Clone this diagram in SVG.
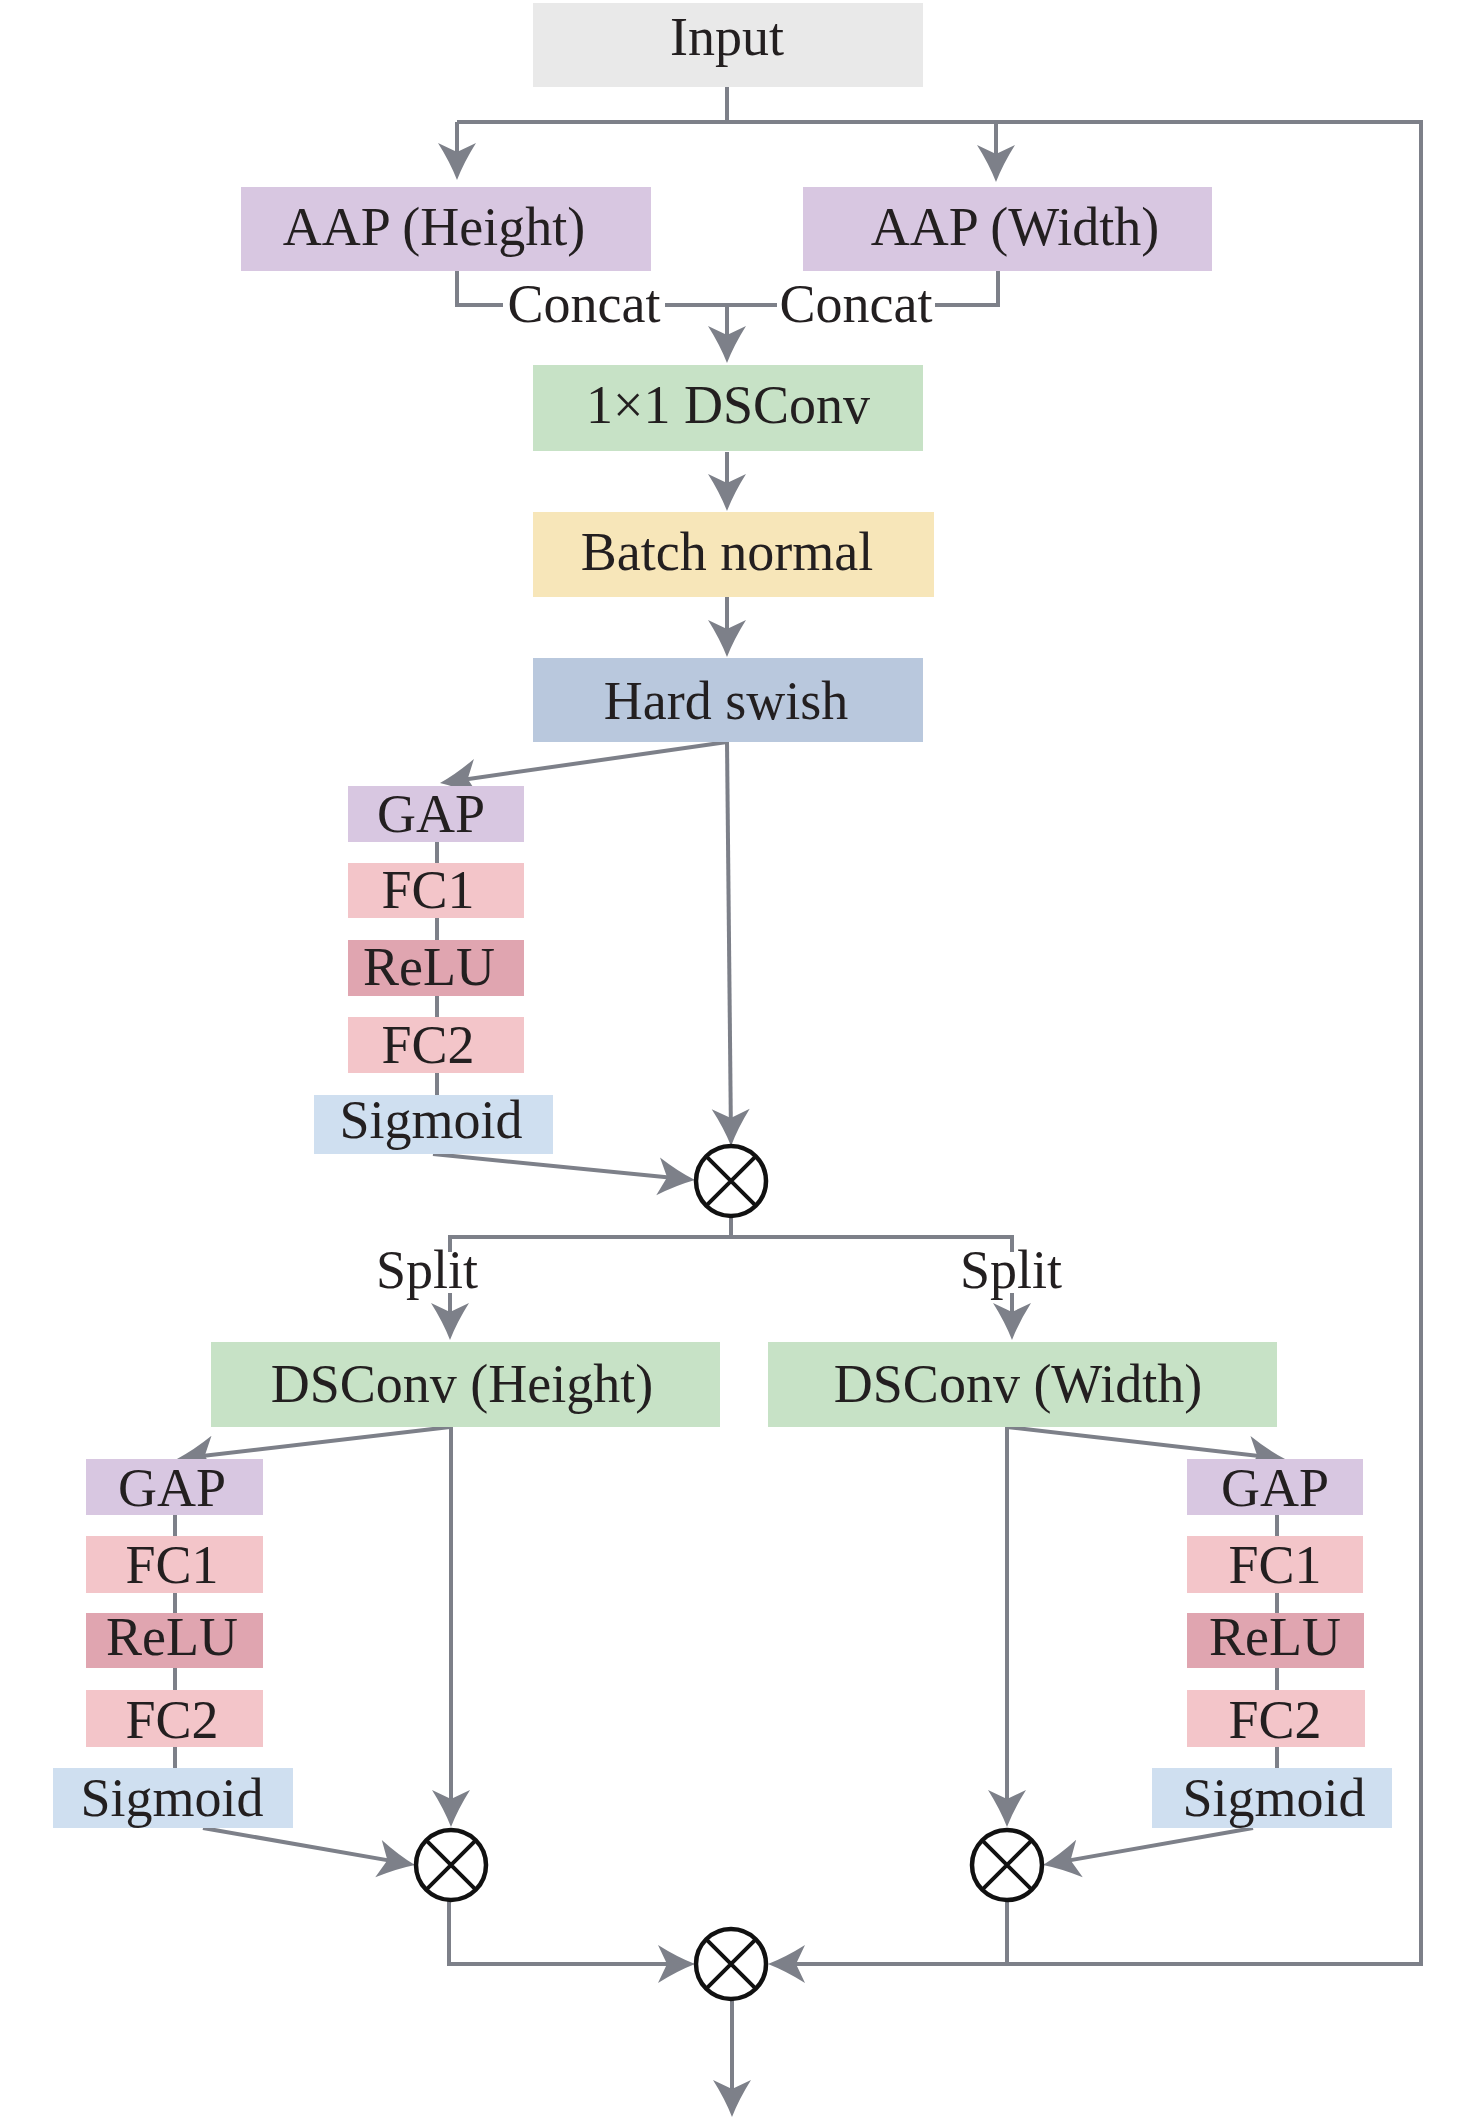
<svg xmlns="http://www.w3.org/2000/svg" width="1476" height="2120" viewBox="0 0 1476 2120">
<style>
.t{font-family:"Liberation Serif","Times New Roman",serif;font-size:54px;fill:#231f20;text-anchor:middle}
.ln{fill:none;stroke:#7d8089;stroke-width:4}
.arr{marker-end:url(#ah)}
.op circle{fill:#fff;stroke:#111;stroke-width:4.5}
.op path{fill:none;stroke:#111;stroke-width:4}
.gray{fill:#e9e9e9}.lav{fill:#d8c7e1}.grn{fill:#c7e2c6}.yel{fill:#f7e6b9}.blu{fill:#b9c8dd}
.pnk{fill:#f3c5c9}.red{fill:#e0a5b0}.sky{fill:#cfdff0}
</style>
<defs>
<marker id="ah" markerUnits="userSpaceOnUse" viewBox="-34 -22 44 44" refX="0" refY="0" markerWidth="44" markerHeight="44" orient="auto" overflow="visible">
<path d="M8,0 Q-10,-7 -29,-19 L-20,0 L-29,19 Q-10,7 8,0 Z" fill="#7d8089"/>
</marker>
</defs>
<rect width="1476" height="2120" fill="#fff"/>
<g id="connectors">
<path class="ln" d="M727,87 V122"/>
<path class="ln arr" d="M457,122 H1421 V1964 H776"/>
<path class="ln arr" d="M457,122 V172"/>
<path class="ln arr" d="M996,122 V174"/>
<path class="ln" d="M457,271 V305 H503"/>
<path class="ln" d="M665,305 H777"/>
<path class="ln" d="M935,305 H998 V271"/>
<path class="ln arr" d="M727,305 V355"/>
<path class="ln arr" d="M727,452 V503"/>
<path class="ln arr" d="M727,597 V649"/>
<path class="ln arr" d="M727,742 L447.9,781.9"/>
<path class="ln arr" d="M727,742 L731,1138"/>
<path class="ln" d="M437,842 V1095"/>
<path class="ln arr" d="M433,1154 L687,1179.2"/>
<path class="ln" d="M731,1217 V1237"/>
<path class="ln" d="M450,1252 V1237 H1012 V1252"/>
<path class="ln arr" d="M450,1293 V1332"/>
<path class="ln arr" d="M1012,1293 V1332"/>
<path class="ln arr" d="M450,1427 L184.9,1458.1"/>
<path class="ln arr" d="M451,1427 V1819"/>
<path class="ln" d="M175,1515 V1768"/>
<path class="ln arr" d="M203,1828 L407.1,1863.6"/>
<path class="ln arr" d="M1007,1427 L1277.1,1458.1"/>
<path class="ln arr" d="M1007,1427 V1819"/>
<path class="ln" d="M1277,1515 V1768"/>
<path class="ln arr" d="M1253,1828 L1050.9,1863.6"/>
<path class="ln arr" d="M449,1901 V1964 H687"/>
<path class="ln" d="M1007,1901 V1964"/>
<path class="ln arr" d="M732,2000 V2109"/>
</g>
<g id="input"><rect class="gray" x="533" y="3" width="390" height="84"/><text class="t" x="727" y="55">Input</text></g>
<g id="aap-height"><rect class="lav" x="241" y="187" width="410" height="84"/><text class="t" x="434" y="245">AAP (Height)</text></g>
<g id="aap-width"><rect class="lav" x="803" y="187" width="409" height="84"/><text class="t" x="1015" y="245">AAP (Width)</text></g>
<g id="concat-labels"><text class="t" x="584" y="322">Concat</text><text class="t" x="856" y="322">Concat</text></g>
<g id="dsconv1x1"><rect class="grn" x="533" y="365" width="390" height="86"/><text class="t" x="728" y="423">1×1 DSConv</text></g>
<g id="batch-normal"><rect class="yel" x="533" y="512" width="401" height="85"/><text class="t" x="727" y="570">Batch normal</text></g>
<g id="hard-swish"><rect class="blu" x="533" y="658" width="390" height="84"/><text class="t" x="726" y="719">Hard swish</text></g>
<g id="gap1"><rect class="lav" x="348" y="786" width="176" height="56"/><text class="t" x="431" y="832">GAP</text></g>
<g id="fc1-1"><rect class="pnk" x="348" y="863" width="176" height="55"/><text class="t" x="428" y="908">FC1</text></g>
<g id="relu1"><rect class="red" x="348" y="940" width="176" height="56"/><text class="t" x="429" y="985">ReLU</text></g>
<g id="fc2-1"><rect class="pnk" x="348" y="1017" width="176" height="56"/><text class="t" x="428" y="1063">FC2</text></g>
<g id="sigmoid1"><rect class="sky" x="314" y="1095" width="239" height="59"/><text class="t" x="431" y="1138">Sigmoid</text></g>
<g id="mul1" class="op"><circle cx="731" cy="1181" r="35"/><path d="M706.3,1156.3 L755.7,1205.7 M755.7,1156.3 L706.3,1205.7"/></g>
<g id="split-labels"><text class="t" x="427" y="1288">Split</text><text class="t" x="1011" y="1288">Split</text></g>
<g id="dsconv-height"><rect class="grn" x="211" y="1342" width="509" height="85"/><text class="t" x="462" y="1402">DSConv (Height)</text></g>
<g id="dsconv-width"><rect class="grn" x="768" y="1342" width="509" height="85"/><text class="t" x="1018" y="1402">DSConv (Width)</text></g>
<g id="gap2"><rect class="lav" x="86" y="1459" width="177" height="56"/><text class="t" x="172" y="1506">GAP</text></g>
<g id="fc1-2"><rect class="pnk" x="86" y="1536" width="177" height="57"/><text class="t" x="172" y="1583">FC1</text></g>
<g id="relu2"><rect class="red" x="86" y="1613" width="177" height="55"/><text class="t" x="172" y="1655">ReLU</text></g>
<g id="fc2-2"><rect class="pnk" x="86" y="1690" width="177" height="57"/><text class="t" x="172" y="1738">FC2</text></g>
<g id="sigmoid2"><rect class="sky" x="53" y="1768" width="240" height="60"/><text class="t" x="172" y="1816">Sigmoid</text></g>
<g id="gap3"><rect class="lav" x="1187" y="1459" width="176" height="56"/><text class="t" x="1275" y="1506">GAP</text></g>
<g id="fc1-3"><rect class="pnk" x="1187" y="1536" width="176" height="57"/><text class="t" x="1275" y="1583">FC1</text></g>
<g id="relu3"><rect class="red" x="1187" y="1613" width="177" height="55"/><text class="t" x="1275" y="1655">ReLU</text></g>
<g id="fc2-3"><rect class="pnk" x="1187" y="1690" width="178" height="57"/><text class="t" x="1275" y="1738">FC2</text></g>
<g id="sigmoid3"><rect class="sky" x="1152" y="1768" width="240" height="60"/><text class="t" x="1274" y="1816">Sigmoid</text></g>
<g id="mul2" class="op"><circle cx="451" cy="1865" r="35"/><path d="M426.3,1840.3 L475.7,1889.7 M475.7,1840.3 L426.3,1889.7"/></g>
<g id="mul3" class="op"><circle cx="1007" cy="1865" r="35"/><path d="M982.3,1840.3 L1031.7,1889.7 M1031.7,1840.3 L982.3,1889.7"/></g>
<g id="mul-final" class="op"><circle cx="731" cy="1964" r="35"/><path d="M706.3,1939.3 L755.7,1988.7 M755.7,1939.3 L706.3,1988.7"/></g>
</svg>
